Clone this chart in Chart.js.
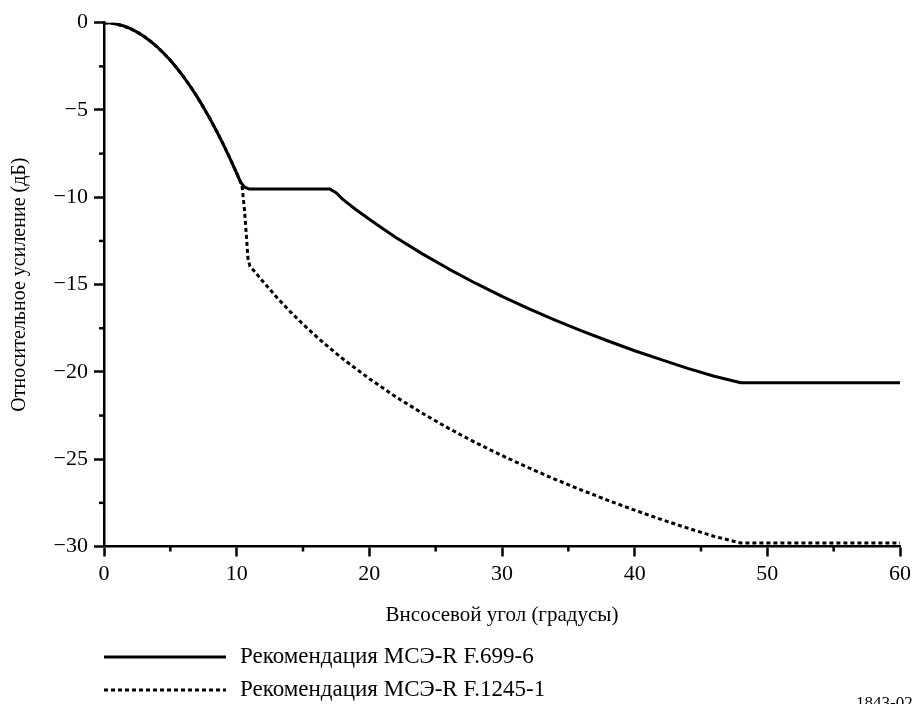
<!DOCTYPE html>
<html>
<head>
<meta charset="utf-8">
<script src="https://cdn.jsdelivr.net/npm/chart.js@4.4.1/dist/chart.umd.min.js"></script>
<style>
html,body{margin:0;padding:0;background:#fff;}
#wrap{position:relative;width:916px;height:704px;}
</style>
</head>
<body>
<div id="wrap"><canvas id="c" width="916" height="704"></canvas></div>
<script>
// ---- data ----
const xTitle = "Внсосевой угол (градусы)";
const yTitle = "Относительное усиление (дБ)";
const seriesNames = ["Рекомендация МСЭ-R F.699-6", "Рекомендация МСЭ-R F.1245-1"];
const figureId = "1843-02";

const anglesF699 = [0, 0.5, 1, 1.5, 2, 2.5, 3, 3.5, 4, 4.5, 5, 5.5, 6, 6.5, 7, 7.5, 8, 8.5, 9, 9.5, 10, 10.3, 10.6, 10.9, 17, 17.5, 18, 19, 20, 21, 22, 24, 26, 28, 30, 32, 34, 36, 38, 40, 42, 44, 46, 48, 60];
const gainF699   = [0, -0.02, -0.09, -0.19, -0.34, -0.54, -0.78, -1.06, -1.38, -1.75, -2.15, -2.61, -3.10, -3.64, -4.22, -4.85, -5.52, -6.23, -6.98, -7.78, -8.62, -9.14, -9.42, -9.52, -9.52, -9.74, -10.12, -10.71, -11.26, -11.79, -12.30, -13.24, -14.11, -14.92, -15.67, -16.37, -17.03, -17.65, -18.23, -18.79, -19.30, -19.80, -20.25, -20.62, -20.62];

const anglesF1245 = [0, 0.5, 1, 1.5, 2, 2.5, 3, 3.5, 4, 4.5, 5, 5.5, 6, 6.5, 7, 7.5, 8, 8.5, 9, 9.5, 10, 10.4, 10.6, 10.75, 10.85, 11, 11.5, 12, 13, 14, 15, 16, 17, 18, 20, 22, 24, 26, 28, 30, 32, 34, 36, 38, 40, 42, 44, 46, 48, 60];
const gainF1245   = [0, -0.02, -0.09, -0.19, -0.34, -0.54, -0.78, -1.06, -1.38, -1.75, -2.15, -2.61, -3.10, -3.64, -4.22, -4.85, -5.52, -6.23, -6.98, -7.78, -8.62, -9.32, -10.8, -12.4, -13.5, -13.95, -14.38, -14.84, -15.71, -16.52, -17.27, -17.97, -18.63, -19.25, -20.39, -21.43, -22.37, -23.24, -24.05, -24.79, -25.49, -26.15, -26.77, -27.36, -27.92, -28.45, -28.95, -29.42, -29.8, -29.8];

const xMajorTicks = [0, 10, 20, 30, 40, 50, 60];
const xMinorTicks = [5, 15, 25, 35, 45, 55];
const yMajorTicks = [0, -5, -10, -15, -20, -25, -30];
const yMinorTicks = [-2.5, -7.5, -12.5, -17.5, -22.5, -27.5];

const SERIF = '"Liberation Serif", "DejaVu Serif", serif';

function toPoints(xs, ys){ return xs.map((x,i)=>({x:x, y:ys[i]})); }

const minorTicksPlugin = {
  id: 'minorTicks',
  afterDraw(chart){
    const ctx = chart.ctx, xs = chart.scales.x, ys = chart.scales.y;
    const a = chart.chartArea;
    ctx.save();
    ctx.strokeStyle = '#000';
    ctx.lineWidth = 2.5;
    xMinorTicks.forEach(v=>{
      const px = xs.getPixelForValue(v);
      ctx.beginPath(); ctx.moveTo(px, a.bottom); ctx.lineTo(px, a.bottom + 5); ctx.stroke();
    });
    yMinorTicks.forEach(v=>{
      const py = ys.getPixelForValue(v);
      ctx.beginPath(); ctx.moveTo(a.left, py); ctx.lineTo(a.left - 5, py); ctx.stroke();
    });
    ctx.restore();
  }
};

const legendPlugin = {
  id: 'customLegend',
  afterDraw(chart){
    const ctx = chart.ctx;
    ctx.save();
    const rows = [657, 690];
    chart.data.datasets.forEach((ds, i)=>{
      const y = rows[i];
      ctx.strokeStyle = ds.borderColor;
      ctx.lineWidth = ds.borderWidth;
      ctx.setLineDash(ds.borderDash || []);
      ctx.lineCap = 'butt';
      ctx.beginPath(); ctx.moveTo(104, y); ctx.lineTo(226, y); ctx.stroke();
      ctx.setLineDash([]);
      ctx.fillStyle = '#000';
      ctx.font = '23px ' + SERIF;
      ctx.textBaseline = 'middle';
      ctx.textAlign = 'left';
      ctx.fillText(ds.label, 240, y);
    });
    ctx.font = '17px ' + SERIF;
    ctx.textAlign = 'left';
    ctx.textBaseline = 'alphabetic';
    ctx.fillText(figureId, 856, 708);
    ctx.restore();
  }
};

new Chart(document.getElementById('c'), {
  type: 'scatter',
  data: {
    datasets: [
      { label: seriesNames[0], data: toPoints(anglesF699, gainF699), showLine: true,
        borderColor: '#000', borderWidth: 3, pointRadius: 0, tension: 0, borderJoinStyle: 'round' },
      { label: seriesNames[1], data: toPoints(anglesF1245, gainF1245), showLine: true,
        borderColor: '#000', borderWidth: 3, borderDash: [4, 3], borderCapStyle: 'butt', pointRadius: 0, tension: 0 }
    ]
  },
  options: {
    responsive: false,
    animation: false,
    layout: { padding: { left: 0, right: 14, top: 22.7, bottom: 0 } },
    plugins: { legend: { display: false }, tooltip: { enabled: false } },
    scales: {
      x: {
        type: 'linear', min: 0, max: 60,
        afterFit(s){ s.height = 157.5; },
        afterBuildTicks(s){ s.ticks = xMajorTicks.map(v=>({value:v})); },
        border: { display: true, color: '#000', width: 2.5 },
        grid: { drawOnChartArea: false, drawTicks: true, tickLength: 10, tickColor: '#000', tickWidth: 2.5 },
        ticks: { color: '#000', font: { family: SERIF, size: 22 }, padding: 5, maxRotation: 0,
                 callback: v => String(v) },
        title: { display: true, text: xTitle, color: '#000', font: { family: SERIF, size: 21 }, padding: { top: 0, bottom: 76 } }
      },
      y: {
        type: 'linear', min: -30, max: 0,
        afterFit(s){ s.width = 104; },
        afterBuildTicks(s){ s.ticks = yMajorTicks.map(v=>({value:v})); },
        border: { display: true, color: '#000', width: 2.5 },
        grid: { drawOnChartArea: false, drawTicks: true, tickLength: 10, tickColor: '#000', tickWidth: 2.5 },
        ticks: { color: '#000', font: { family: SERIF, size: 22 }, padding: 6,
                 callback: v => (v < 0 ? '\u2212' + Math.abs(v) : String(v)) },
        title: { display: true, text: yTitle, color: '#000', font: { family: SERIF, size: 20 }, padding: { top: 8, bottom: 0 } }
      }
    }
  },
  plugins: [minorTicksPlugin, legendPlugin]
});
</script>
</body>
</html>
